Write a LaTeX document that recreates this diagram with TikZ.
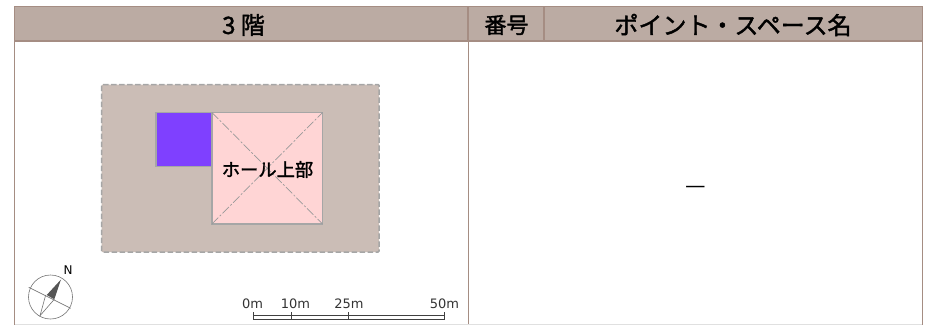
\documentclass[tikz,border=0pt]{standalone}
\usepackage{fontspec}
\setmainfont{DejaVu Sans}
\newfontfamily\cjk[FakeBold=1.6]{Noto Sans CJK JP}
\newfontfamily\cjkplain{Noto Sans CJK JP}
\definecolor{hdr}{HTML}{BBABA3}
\definecolor{rule}{HTML}{A58D83}
\definecolor{site}{HTML}{CBBDB6}
\definecolor{edge}{HTML}{A6A6A6}
\definecolor{hall}{HTML}{FFD5D5}
\definecolor{vio}{HTML}{7F40FF}
\definecolor{ink}{HTML}{555555}
\tikzset{
  headcell/.style={fill=hdr,draw=rule,line width=1.1pt},
  headtext/.style={font=\cjk\fontsize{24}{26}\selectfont,text=black,inner sep=0pt},
  frameline/.style={draw=rule,line width=1.3pt},
  midline/.style={draw=rule,line width=0.8pt},
  roomshape/.style={draw=edge,line width=1.2pt},
  scaleline/.style={draw=black!75,line width=0.7pt},
  scaletext/.style={font=\fontsize{13}{15}\selectfont,text=black!80,inner sep=0pt},
  compassline/.style={draw=black!55,line width=0.6pt}
}
\begin{document}
\begin{tikzpicture}[x=1pt,y=-1pt]
\useasboundingbox (0,0) rectangle (928,325);
% table
\draw[frameline] (14.5,41) -- (14.5,325);
\draw[frameline] (922.5,41) -- (922.5,325);
\draw[midline] (468,41) -- (468,325);
\draw[draw=black!12,line width=0.8pt] (15,324.5) -- (922,324.5);
\draw[headcell] (14.5,6.5) rectangle (468,41);
\draw[headcell] (468,6.5) rectangle (544,41);
\draw[headcell] (544,6.5) rectangle (922.5,41);
\node[headtext] (h1) at (243.5,25) {3 階};
\node[headtext,font=\cjk\fontsize{22}{24}\selectfont] (h2) at (506.5,25) {番号};
\node[headtext] (h3) at (733,25) {ポイント・スペース名};
\node[font=\cjkplain\fontsize{23}{25}\selectfont,inner sep=0pt] (dash) at (695.5,189.5) {—};
% plan
\draw[fill=site,draw=edge,line width=1.5pt,dash pattern=on 5.5pt off 2.5pt,rounded corners=1pt] (101.5,84.5) rectangle (379,252);
\draw[roomshape,fill=vio] (156,112.5) rectangle (212,166.5);
\draw[roomshape,fill=hall] (212,112.5) rectangle (322.5,224);
\draw[draw=black!40,line width=0.7pt,dash pattern=on 9pt off 2pt on 2pt off 2pt] (212,112.5) -- (322.5,224);
\draw[draw=black!40,line width=0.7pt,dash pattern=on 9pt off 2pt on 2pt off 2pt] (212,224) -- (322.5,112.5);
\node[font=\cjk\fontsize{18.3}{20}\selectfont,inner sep=0pt] (hall) at (267.5,169.5) {ホール上部};
% compass
\draw[compassline] (50.5,297) circle (22);
\draw[compassline] (28.7,287.3) -- (70.7,308.3);
\draw[compassline] (45.7,295) -- (40,315.7) -- (54.3,299.3);
\fill[ink] (61,279.5) -- (46.7,295) -- (54.3,299.3) -- cycle;
\node[font=\fontsize{12}{14}\selectfont,inner sep=0pt] (north) at (68,270.5) {N};
% scale
\draw[scaleline] (253,315) -- (444.5,315);
\draw[scaleline] (253,319) -- (444.5,319);
\draw[scaleline] (253,312) -- (253,319);
\draw[scaleline] (291,312) -- (291,319);
\draw[scaleline] (348,312) -- (348,319);
\draw[scaleline] (444.5,312) -- (444.5,319);
\node[scaletext] (s0) at (252.5,304) {0m};
\node[scaletext] (s10) at (295.5,304) {10m};
\node[scaletext] (s25) at (349,304) {25m};
\node[scaletext] (s50) at (444.5,304) {50m};
\end{tikzpicture}
\end{document}
